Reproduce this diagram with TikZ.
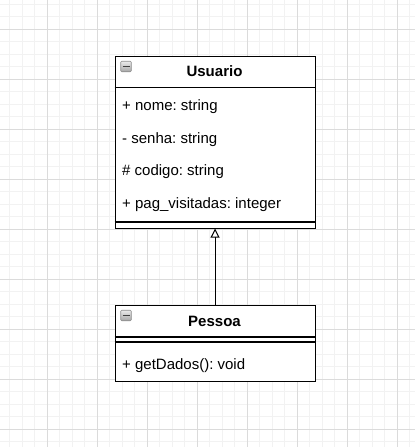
\documentclass[tikz,border=0pt]{standalone}
\usepackage{fontspec}
\setmainfont{Liberation Sans}
\usetikzlibrary{arrows.meta}
\frenchspacing
\begin{document}
\begin{tikzpicture}[x=1pt,y=-1pt,
  classbox/.style={draw=black,line width=1.1pt,fill=white,inner sep=0pt},
  attr/.style={anchor=base west,inner sep=0pt,font=\fontsize{15}{18}\selectfont},
  title/.style={anchor=base,inner sep=0pt,font=\fontsize{15}{18}\selectfont\bfseries},
  sep/.style={draw=black,line width=1.1pt},
  icon/.style={draw=black!45,line width=0.6pt,top color=black!8,bottom color=black!35,rounded corners=1pt,minimum size=10.5,inner sep=0pt},
  minor/.style={draw=black!5,line width=0.9pt},
  major/.style={draw=black!14,line width=0.8pt}]
\useasboundingbox (0,0) rectangle (415,447);
\fill[white] (0,0) rectangle (415,447);
% grid
\foreach \i in {0,...,34}{
  \pgfmathsetmacro{\gx}{-2.7+12.5*\i}
  \draw[minor] (\gx,0) -- (\gx,447);
}
\foreach \i in {0,...,36}{
  \pgfmathsetmacro{\gy}{4.3+12.5*\i}
  \draw[minor] (0,\gy) -- (415,\gy);
}
\foreach \gx in {47.3,97.3,...,398}{ \draw[major] (\gx,0) -- (\gx,447); }
\foreach \gy in {29.3,79.3,...,430}{ \draw[major] (0,\gy) -- (415,\gy); }
% Usuario
\node[classbox,minimum width=200,minimum height=172,anchor=north west] (usu) at (114.5,55.5) {};
\draw[sep] (114.5,87.5) -- (314.5,87.5);
\draw[sep] (114.5,222) -- (314.5,222);
\node[title] (usut) at (214.5,76) {Usuario};
\node[attr] (a1) at (122,110.5) {+ nome: string};
\node[attr] (a2) at (122,143) {- senha: string};
\node[attr] (a3) at (122,175.5) {\# codigo: string};
\node[attr] (a4) at (122,208) {+ pag\_visitadas: integer};
\node[icon] (ic1) at (126,66.5) {};
\draw[black!75,line width=1.4pt] (122.5,66.5) -- (129.5,66.5);
% Pessoa
\node[classbox,minimum width=200,minimum height=76,anchor=north west] (pes) at (114.5,304.5) {};
\draw[sep] (114.5,337) -- (314.5,337);
\draw[sep] (114.5,342) -- (314.5,342);
\node[title] (pest) at (214.5,326.5) {Pessoa};
\node[attr] (m1) at (122,369) {+ getDados(): void};
\node[icon] (ic2) at (126,315.5) {};
\draw[black!75,line width=1.4pt] (122.5,315.5) -- (129.5,315.5);
% generalization
\draw[line width=1pt,-{Triangle[open,length=9pt,width=9pt,line width=1pt]}] (pes.north) -- (usu.south);
\end{tikzpicture}
\end{document}
